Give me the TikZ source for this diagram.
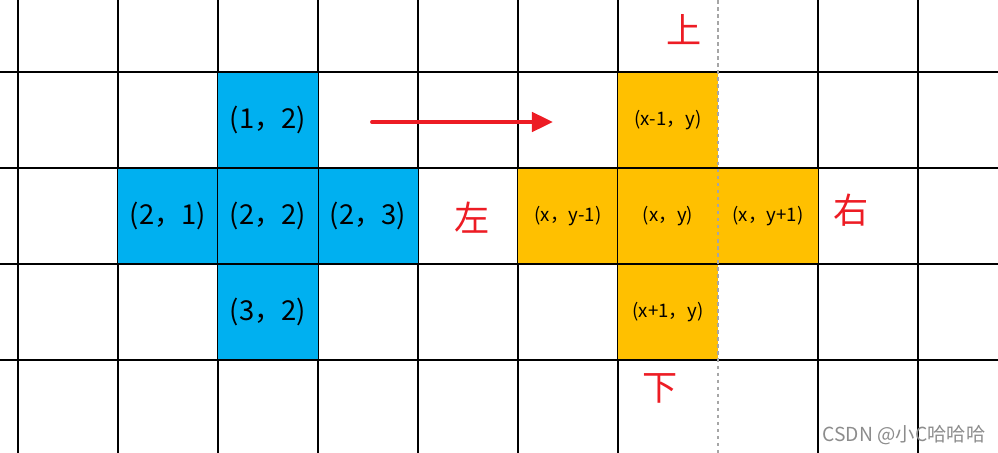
\documentclass[tikz,border=0pt]{standalone}
\usepackage{fontspec}
\setmainfont{Noto Sans CJK SC}
\definecolor{cell_blue}{RGB}{0, 176, 240}
\definecolor{cell_orange}{RGB}{255, 192, 0}
\definecolor{dir_red}{RGB}{237, 28, 36}
\usetikzlibrary{arrows.meta, positioning}

\tikzset{
  gridline/.style={black, line width=0.4pt},
  cellbox/.style={minimum width=1cm, minimum height=0.96cm, inner sep=0pt},
  bluecell/.style={cellbox, fill=cell_blue, font=\fontsize{7.8}{9}\selectfont},
  orangecell/.style={cellbox, fill=cell_orange, font=\fontsize{5.3}{6}\selectfont},
  dirlabel/.style={text=dir_red, font=\fontsize{10}{12}\selectfont}
}

\begin{document}
\begin{tikzpicture}
  \useasboundingbox (0,0) rectangle (9.98,-4.53);
  % vertical grid lines
  \foreach \c in {0,...,9} {
    \ifnum\c=7\else
      \draw[gridline] ({\c+0.18},0) -- ({\c+0.18},-4.53);
    \fi
  }
  % left cross
  \node[bluecell] (b12) at (2.68,-1.20) {(1，2)};
  \node[bluecell] (b21) at (1.68,-2.16) {(2，1)};
  \node[bluecell] (b22) at (2.68,-2.16) {(2，2)};
  \node[bluecell] (b23) at (3.68,-2.16) {(2，3)};
  \node[bluecell] (b32) at (2.68,-3.12) {(3，2)};
  % right cross
  \node[orangecell] (up)    at (6.68,-1.20) {(x-1，y)};
  \node[orangecell] (left)  at (5.68,-2.16) {(x，y-1)};
  \node[orangecell] (mid)   at (6.68,-2.16) {(x，y)};
  \node[orangecell] (right) at (7.68,-2.16) {(x，y+1)};
  \node[orangecell] (down)  at (6.68,-3.12) {(x+1，y)};
  % horizontal grid lines
  \foreach \r in {0.72, 1.68, 2.64, 3.60} {
    \draw[gridline] (0,-\r) -- (9.98,-\r);
  }
  \draw[gridline] (b22.north west) -- (b22.south west);
  \draw[gridline] (b22.north east) -- (b22.south east);
  \draw[gridline] (up.north west) -- (down.south west);
  \draw[gridline] (right.north east) -- (right.south east);
  \draw[gray!70, line width=0.3pt, dash pattern=on 1pt off 1pt] (7.18,0) -- (7.18,-4.53);
  % direction labels
  \node[dirlabel] (lbl_up)    at (6.84,-0.30) {上};
  \node[dirlabel] (lbl_down)  at (6.60,-3.88) {下};
  \node[dirlabel] (lbl_left)  at (4.72,-2.18) {左};
  \node[dirlabel] (lbl_right) at (8.51,-2.10) {右};
  % move arrow
  \coordinate (arr_start) at (3.72,-1.22);
  \coordinate (arr_end)   at (5.53,-1.22);
  \draw[dir_red, line width=1.1pt, line cap=round, -{Triangle[length=6pt, width=5.5pt]}] (arr_start) -- (arr_end);
  \node[text=black!45, font=\fontsize{5.5}{6}\selectfont] (mark) at (9.04,-4.35) {CSDN @小C哈哈哈};
\end{tikzpicture}
\end{document}
